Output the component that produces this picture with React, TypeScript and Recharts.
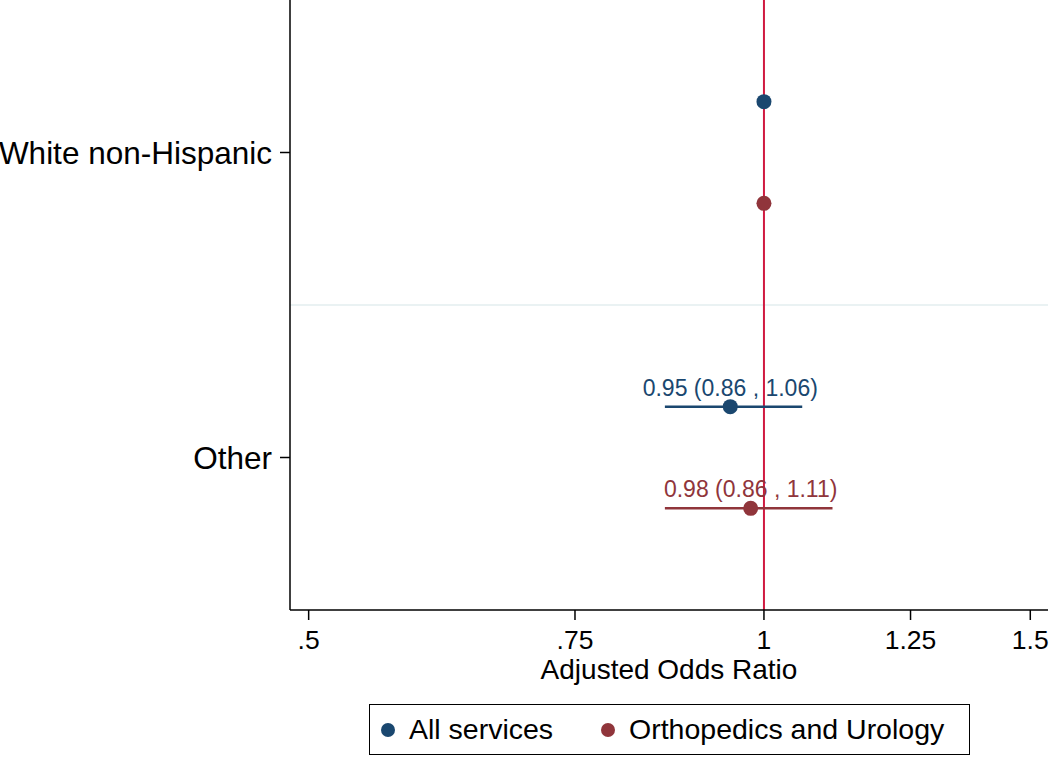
import {
  ScatterChart,
  Scatter,
  XAxis,
  YAxis,
  ReferenceLine,
  Legend,
} from "recharts";

const GROUPS = ["White non-Hispanic", "Other"];
const SERIES_NAMES = ["All services", "Orthopedics and Urology"];
const SERIES_COLORS = ["#1a476f", "#90353b"];

// odds ratios with 95% CI (reference group has no CI)
const ALL_OR = [1, 0.95];
const ALL_LO: (number | null)[] = [null, 0.86];
const ALL_HI: (number | null)[] = [null, 1.06];
const ORTHO_OR = [1, 0.98];
const ORTHO_LO: (number | null)[] = [null, 0.86];
const ORTHO_HI: (number | null)[] = [null, 1.11];

const X_TICKS = [0.5, 0.75, 1, 1.25, 1.5];
const X_TICK_LABELS = [".5", ".75", "1", "1.25", "1.5"];

const FONT = '"Liberation Sans", Arial, Helvetica, sans-serif';

const fmt = (v: number) => v.toFixed(2);

// each group takes 3 rows: series 0 at row 1, series 1 at row 2
function buildRows(or: number[], lo: (number | null)[], hi: (number | null)[], s: number) {
  return GROUPS.map((g, i) => ({
    group: g,
    row: i * 3 + 1 + s,
    or: or[i],
    lo: lo[i],
    hi: hi[i],
    label: lo[i] != null && hi[i] != null ? `${fmt(or[i])} (${fmt(lo[i] as number)} , ${fmt(hi[i] as number)})` : "",
  }));
}

const allRows = buildRows(ALL_OR, ALL_LO, ALL_HI, 0);
const orthoRows = buildRows(ORTHO_OR, ORTHO_LO, ORTHO_HI, 1);
const groupTicks = GROUPS.map((_, i) => i * 3 + 1.5);

function makeShape(color: string) {
  return (props: any) => {
    const { cx, cy, payload } = props;
    return (
      <g>
        <circle cx={cx} cy={cy} r={7.5} fill={color} />
        {payload.label ? (
          <text x={cx} y={cy - 11} textAnchor="middle" fontSize={23} fill={color} fontFamily={FONT}>
            {payload.label}
          </text>
        ) : null}
      </g>
    );
  };
}

function LegendBox() {
  return (
    <div
      style={{
        boxSizing: "border-box",
        height: 51,
        border: "1.5px solid #000",
        display: "flex",
        alignItems: "center",
        fontFamily: FONT,
        fontSize: 28.5,
        color: "#000",
        paddingLeft: 11,
        whiteSpace: "nowrap",
      }}
    >
      {SERIES_NAMES.map((name, i) => (
        <div
          key={name}
          style={{ display: "flex", alignItems: "center", flex: "none", width: i === 0 ? 220 : "auto" }}
        >
          <span
            style={{
              display: "inline-block",
              width: 14,
              height: 14,
              borderRadius: 7,
              background: SERIES_COLORS[i],
              marginRight: 14,
              flex: "none",
            }}
          />
          <span>{name}</span>
        </div>
      ))}
    </div>
  );
}

export default function App() {
  return (
    <div style={{ position: "absolute", left: 0, top: 0, background: "#fff" }}>
      <ScatterChart width={1050} height={757} margin={{ top: 0, right: 2, bottom: 0, left: 0 }}>
        <XAxis
          type="number"
          dataKey="or"
          scale="log"
          domain={[0.486, 1.541]}
          allowDataOverflow
          ticks={X_TICKS}
          tickFormatter={(v: number) => X_TICK_LABELS[X_TICKS.indexOf(v)] ?? String(v)}
          height={96}
          tick={{ fontSize: 26.5, fill: "#000", fontFamily: FONT }}
          tickSize={10}
          tickMargin={10}
          axisLine={{ stroke: "#000", strokeWidth: 1.5 }}
          tickLine={{ stroke: "#000", strokeWidth: 1.5 }}
          label={{
            value: "Adjusted Odds Ratio",
            position: "insideBottom",
            offset: 27,
            fontSize: 28,
            fill: "#000",
            fontFamily: FONT,
          }}
        />
        <YAxis
          type="number"
          dataKey="row"
          domain={[0, 6]}
          reversed
          ticks={groupTicks}
          tickFormatter={(v: number) => GROUPS[groupTicks.indexOf(v)] ?? ""}
          width={290}
          tick={{ fontSize: 31.5, fill: "#000", fontFamily: FONT }}
          tickSize={10}
          tickMargin={8}
          axisLine={{ stroke: "#000", strokeWidth: 1.5 }}
          tickLine={{ stroke: "#000", strokeWidth: 1.5 }}
        />
        <ReferenceLine y={3} stroke="#eaf2f3" strokeWidth={2} />
        <ReferenceLine x={1} stroke="#d01a40" strokeWidth={2} />
        {[...allRows, ...orthoRows]
          .filter((r) => r.lo != null && r.hi != null)
          .map((r, i) => (
            <ReferenceLine
              key={`ci-${i}`}
              segment={[
                { x: r.lo as number, y: r.row },
                { x: r.hi as number, y: r.row },
              ]}
              stroke={SERIES_COLORS[(r.row - 1) % 3]}
              strokeWidth={2.5}
            />
          ))}
        <Scatter
          name={SERIES_NAMES[0]}
          data={allRows}
          fill={SERIES_COLORS[0]}
          shape={makeShape(SERIES_COLORS[0])}
          isAnimationActive={false}
        />
        <Scatter
          name={SERIES_NAMES[1]}
          data={orthoRows}
          fill={SERIES_COLORS[1]}
          shape={makeShape(SERIES_COLORS[1])}
          isAnimationActive={false}
        />
        <Legend
          verticalAlign="bottom"
          content={() => <LegendBox />}
          wrapperStyle={{ left: 369, width: 601, bottom: 2 }}
        />
      </ScatterChart>
    </div>
  );
}
